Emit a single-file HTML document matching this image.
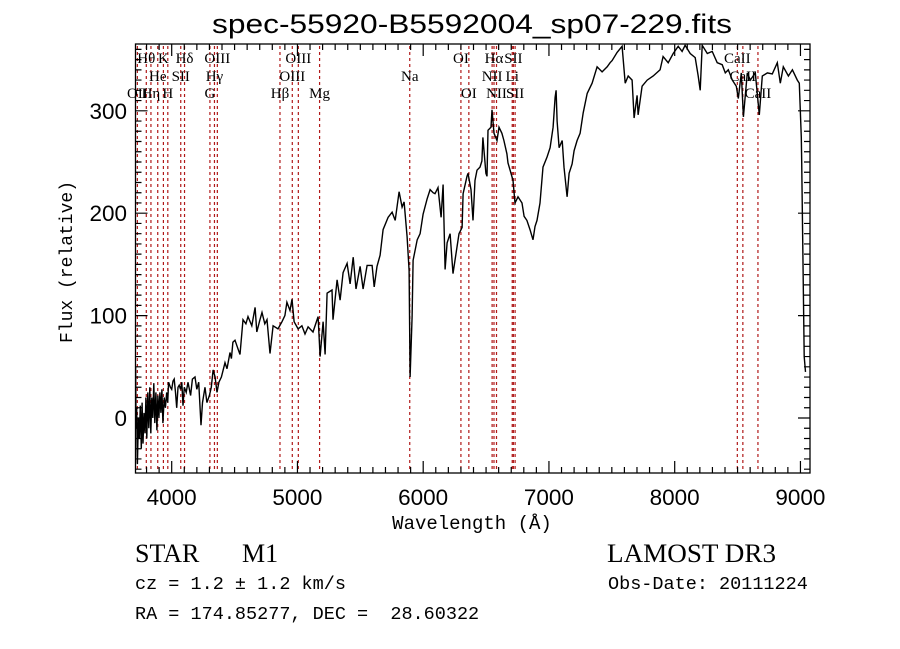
<!DOCTYPE html>
<html><head><meta charset="utf-8"><style>
html,body{margin:0;padding:0;background:#fff;width:900px;height:649px;overflow:hidden}
svg{display:block}
.tk{font-family:"Liberation Sans",sans-serif;font-size:22px;fill:#000}
.ln{font-family:"Liberation Serif",serif;font-size:15px;fill:#000}
.mono{font-family:"Liberation Mono",monospace;fill:#000;white-space:pre}
.ser{font-family:"Liberation Serif",serif;fill:#000}
</style></head><body>
<svg id="chart" width="900" height="649">
<text x="212" y="33" textLength="520" lengthAdjust="spacingAndGlyphs" class="tk" style="font-size:27px">spec-55920-B5592004_sp07-229.fits</text>
<g id="lines"></g>
<g id="labels"></g>
<g id="axes"></g>
<g id="series"></g>
<text x="472" y="529" text-anchor="middle" class="mono" style="font-size:19px">Wavelength (Å)</text>
<text transform="translate(72,262) rotate(-90)" text-anchor="middle" class="mono" style="font-size:18px">Flux (relative)</text>
<text x="135" y="562" class="ser" style="font-size:26px">STAR</text>
<text x="242" y="562" class="ser" style="font-size:26px">M1</text>
<text x="607" y="562" textLength="169" lengthAdjust="spacingAndGlyphs" class="ser" style="font-size:26px">LAMOST DR3</text>
<text x="135" y="589" class="mono" style="font-size:18.5px" xml:space="preserve">cz = 1.2 ± 1.2 km/s</text>
<text x="608" y="589" class="mono" style="font-size:18.5px">Obs-Date: 20111224</text>
<text x="135" y="619" class="mono" style="font-size:18.5px" xml:space="preserve">RA = 174.85277, DEC =  28.60322</text>
</svg>
<script>
const waves=[3710,3713,3717,3722,3727,3735,3742,3750,3758,3765,3772,3780,3788,3795,3802,3810,3818,3826,3834,3842,3850,3858,3866,3874,3882,3890,3898,3906,3914,3922,3930,3940,3950,3960,3968,3975,3990,4000,4010,4020,4030,4040,4050,4060,4070,4080,4090,4100,4115,4130,4150,4165,4185,4200,4215,4233,4245,4265,4280,4300,4315,4329,4345,4360,4375,4395,4424,4440,4464,4475,4487,4503,4520,4543,4567,4590,4607,4637,4663,4677,4700,4718,4740,4758,4782,4806,4845,4877,4900,4916,4941,4957,4973,5005,5035,5060,5085,5124,5164,5180,5204,5220,5236,5275,5283,5315,5339,5363,5395,5419,5443,5466,5498,5522,5554,5594,5610,5633,5657,5681,5721,5753,5777,5808,5832,5848,5872,5888,5896,5912,5920,5952,5975,5999,6031,6055,6079,6094,6118,6142,6158,6174,6190,6214,6237,6269,6285,6309,6317,6348,6356,6380,6396,6412,6428,6452,6467,6475,6499,6507,6515,6539,6547,6563,6587,6603,6626,6642,6666,6674,6698,6714,6730,6754,6786,6802,6825,6849,6873,6889,6905,6929,6953,6985,7009,7033,7049,7057,7065,7081,7105,7120,7144,7160,7184,7200,7224,7248,7272,7304,7343,7383,7423,7463,7486,7502,7542,7582,7606,7630,7661,7677,7701,7709,7741,7781,7829,7884,7908,7948,7988,8028,8059,8083,8123,8163,8187,8203,8219,8259,8298,8338,8378,8402,8426,8458,8490,8506,8530,8546,8577,8601,8641,8673,8697,8737,8776,8816,8840,8864,8904,8936,8975,8991,9007,9010,9030,9040];
const flux=[20,50,-10,10,-45,0,-20,12,-30,15,-25,5,-15,20,-20,25,-10,30,-15,20,0,34,-5,25,-12,22,0,25,5,28,-5,20,10,25,15,35,30,28,36,38,25,10,30,32,28,35,12,30,25,35,22,38,40,28,35,-7,15,30,15,22,30,47,40,25,35,40,54,48,64,58,74,76,70,62,96,92,99,90,108,84,95,103,92,96,63,90,87,94,100,113,105,116,94,87,90,82,89,84,99,60,94,62,122,125,96,135,115,142,151,131,157,126,148,126,149,149,128,148,159,184,196,201,193,221,206,211,177,144,40,99,154,174,180,199,214,223,220,219,225,196,228,145,171,180,141,167,180,186,219,236,239,223,193,232,242,245,251,274,239,236,281,284,301,278,271,284,278,271,258,249,239,232,210,216,210,197,193,184,174,187,193,210,245,255,264,284,313,320,290,264,271,245,216,239,248,261,271,278,298,317,327,343,338,343,347,349,357,363,327,334,330,293,315,296,324,330,334,340,353,347,356,363,358,364,356,352,334,320,364,356,358,347,345,337,340,330,324,312,337,294,337,330,337,296,334,337,336,347,327,343,334,340,330,327,274,250,60,45];
const xTicks=[4000,5000,6000,7000,8000,9000];
const yTicks=[0,100,200,300];
const lineWaves=[3727,3798,3835,3889,3934,3969,4072,4102,4304,4340,4363,4861,4959,5007,5176,5893,6300,6363,6548,6563,6583,6708,6717,6731,8498,8542,8662];
const lineNames=["OII","Hθ","Hη","He","K","H","SII","Hδ","G","Hγ","OIII","Hβ","OIII","OIII","Mg","Na","OI","OI","NII","Hα","NII","Li","SII","SII","CaII","CaII","CaII"];
const lineRows=[2,0,2,1,0,2,1,0,2,1,0,2,1,0,2,1,0,2,1,0,2,1,0,2,0,1,2];

const L=135.5,R=810,T=44,B=473;
const W0=4000,PX0=171.7,SX=0.12575;
const Y0=418,SY=1.024;
const xs=w=>PX0+(w-W0)*SX;
const ys=f=>Y0-f*SY;
const NS='http://www.w3.org/2000/svg';
function mk(tag,attrs,parent){const e=document.createElementNS(NS,tag);for(const k in attrs)e.setAttribute(k,attrs[k]);parent.appendChild(e);return e;}

const gl=document.getElementById('lines');
lineWaves.forEach((w,i)=>{
  const l=mk('line',{x1:xs(w),x2:xs(w),y1:T+2,y2:B-1,stroke:'#b01818','stroke-width':1.2,'stroke-dasharray':'3 3'},gl);
  
  
});
const glab=document.getElementById('labels');
const rowY=[63,81,98];
lineWaves.forEach((w,i)=>{
  const t=mk('text',{x:xs(w),y:rowY[lineRows[i]],'text-anchor':'middle',class:'ln'},glab);
  t.textContent=lineNames[i];
  
  
});

const ga=document.getElementById('axes');
const frame=mk('rect',{x:L,y:T,width:R-L,height:B-T,fill:'none',stroke:'#000','stroke-width':1.3},ga);


let tp='';
for(let w=3800;w<=9000;w+=100){const x=xs(w);const len=(w%1000===0)?12:6;tp+=`M${x},${B}v${-len}M${x},${T}v${len}`;}
for(let f=-50;f<=360;f+=10){const y=ys(f);const len=(f%100===0)?12:6;tp+=`M${L},${y}h${len}M${R},${y}h${-len}`;}
const ticks=mk('path',{d:tp,stroke:'#000','stroke-width':1.2,fill:'none'},ga);


xTicks.forEach(w=>{const t=mk('text',{x:xs(w)-25,y:505,textLength:50,lengthAdjust:'spacingAndGlyphs',class:'tk'},ga);t.textContent=w;
  
  });
yTicks.forEach(f=>{const s=String(f);const wd=s.length*12.5;const t=mk('text',{x:127-wd,y:ys(f)+8,textLength:wd,lengthAdjust:'spacingAndGlyphs',class:'tk'},ga);t.textContent=s;
  
  });

const gs=document.getElementById('series');
const cp=mk('clipPath',{id:'clip'},gs);mk('rect',{x:L,y:T,width:R-L,height:B-T},cp);
let d='';waves.forEach((w,i)=>{d+=(i?'L':'M')+xs(w).toFixed(1)+','+ys(flux[i]).toFixed(1);});
const p=mk('path',{d:d,fill:'none',stroke:'#000','stroke-width':1.4,'clip-path':'url(#clip)'},gs);


</script>
</body></html>
